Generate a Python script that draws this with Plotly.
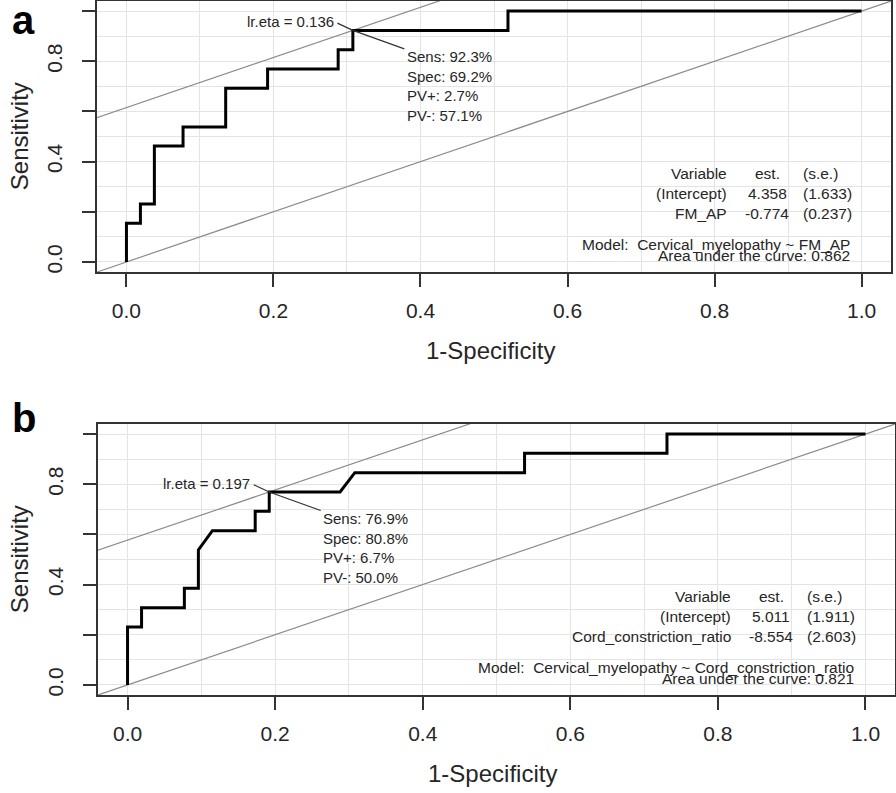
import plotly.graph_objects as go

# ---- panel a: FM_AP ----
fpr_a = [0, 0, 0.019, 0.019, 0.038, 0.038, 0.077, 0.077, 0.135, 0.135,
         0.192, 0.192, 0.288, 0.288, 0.308, 0.308, 0.519, 0.519, 1.0]
tpr_a = [0, 0.154, 0.154, 0.231, 0.231, 0.462, 0.462, 0.538, 0.538, 0.692,
         0.692, 0.769, 0.769, 0.846, 0.846, 0.923, 0.923, 1.0, 1.0]
opt_a = (0.308, 0.923)
lr_eta_a = "lr.eta = 0.136"
stats_a = ["Sens: 92.3%", "Spec: 69.2%", "PV+: 2.7%", "PV-: 57.1%"]
table_a = [("Variable", "est.", "(s.e.)"),
           ("(Intercept)", "4.358", "(1.633)"),
           ("FM_AP", "-0.774", "(0.237)")]
model_a = "Cervical_myelopathy ~ FM_AP"
auc_a = "0.862"

# ---- panel b: Cord constriction ratio ----
fpr_b = [0, 0, 0.019, 0.019, 0.077, 0.077, 0.096, 0.096, 0.115, 0.173,
         0.173, 0.192, 0.192, 0.288, 0.308, 0.538, 0.538, 0.731, 0.731, 1.0]
tpr_b = [0, 0.231, 0.231, 0.308, 0.308, 0.385, 0.385, 0.538, 0.615, 0.615,
         0.692, 0.692, 0.769, 0.769, 0.846, 0.846, 0.923, 0.923, 1.0, 1.0]
opt_b = (0.192, 0.769)
lr_eta_b = "lr.eta = 0.197"
stats_b = ["Sens: 76.9%", "Spec: 80.8%", "PV+: 6.7%", "PV-: 50.0%"]
table_b = [("Variable", "est.", "(s.e.)"),
           ("(Intercept)", "5.011", "(1.911)"),
           ("Cord_constriction_ratio", "-8.554", "(2.603)")]
model_b = "Cervical_myelopathy ~ Cord_constriction_ratio"
auc_b = "0.821"

x_ticks = [0, 0.2, 0.4, 0.6, 0.8, 1.0]
x_ticktext = ["0.0", "0.2", "0.4", "0.6", "0.8", "1.0"]
y_ticks = [0, 0.2, 0.4, 0.6, 0.8, 1.0]
y_ticktext = ["0.0", "", "0.4", "", "0.8", ""]

FONT = "Liberation Sans, Arial, sans-serif"
TXT = "#262626"
AX = "#333333"

fig = go.Figure()

panels = [
    dict(tag="a", xa="x", ya="y", fpr=fpr_a, tpr=tpr_a, opt=opt_a, eta=lr_eta_a,
         stats=stats_a, table=table_a, model=model_a, auc=auc_a,
         xdom=[0.1083, 0.9944], ydom=[0.6570, 0.9987], tag_y=0.9745),
    dict(tag="b", xa="x2", ya="y2", fpr=fpr_b, tpr=tpr_b, opt=opt_b, eta=lr_eta_b,
         stats=stats_b, table=table_b, model=model_b, auc=auc_b,
         xdom=[0.1094, 0.9989], ydom=[0.1236, 0.4653], tag_y=0.4729),
]

annotations = []
axis_common = dict(range=[-0.04, 1.04], showline=True, mirror=True,
                   linecolor=AX, linewidth=1.5, ticks="outside", ticklen=13,
                   tickwidth=1.5, tickcolor=AX, showgrid=True, gridcolor="#e4e4e4",
                   gridwidth=1, zeroline=False, automargin=False,
                   tickfont=dict(family=FONT, size=21, color=TXT),
                   minor=dict(tick0=0, dtick=0.1, showgrid=True,
                              gridcolor="#e4e4e4", gridwidth=1, ticks=""))

for p in panels:
    # diagonal and tangent line through the optimal cut point
    icpt = p["opt"][1] - p["opt"][0]
    for b in [0, icpt]:
        fig.add_trace(go.Scatter(x=[-1, 2], y=[-1 + b, 2 + b], mode="lines",
                                 line=dict(color="#8c8c8c", width=1.2),
                                 xaxis=p["xa"], yaxis=p["ya"],
                                 hoverinfo="skip", showlegend=False))
    # ROC curve
    fig.add_trace(go.Scatter(x=p["fpr"], y=p["tpr"], mode="lines",
                             line=dict(color="black", width=3),
                             xaxis=p["xa"], yaxis=p["ya"], showlegend=False))

    ox, oy = p["opt"]
    # leader lines
    for ax_, ay_ in [(-17, -8), (53, 19)]:
        annotations.append(dict(x=ox, y=oy, xref=p["xa"], yref=p["ya"], text="",
                                showarrow=True, arrowhead=0, arrowwidth=1.2,
                                arrowcolor=AX, ax=ax_, ay=ay_, standoff=0))
    annotations.append(dict(x=ox, y=oy, xref=p["xa"], yref=p["ya"], text=p["eta"],
                            showarrow=False, xanchor="right", yanchor="middle",
                            xshift=-17, yshift=9,
                            font=dict(family=FONT, size=15, color=TXT)))
    annotations.append(dict(x=ox, y=oy, xref=p["xa"], yref=p["ya"],
                            text="<br>".join(p["stats"]), align="left",
                            showarrow=False, xanchor="left", yanchor="top",
                            xshift=52, yshift=-16,
                            font=dict(family=FONT, size=15, color=TXT)))

    # coefficient table
    rows_y = [0.351, 0.273, 0.195]
    tf = dict(family=FONT, size=15.5, color=TXT)
    for (lab, est, se), ry in zip(p["table"], rows_y):
        annotations.append(dict(x=0.82, y=ry, xref=p["xa"], yref=p["ya"], text=lab,
                                showarrow=False, xanchor="right", font=tf))
        annotations.append(dict(x=0.872, y=ry, xref=p["xa"], yref=p["ya"], text=est,
                                showarrow=False, xanchor="center", font=tf))
        annotations.append(dict(x=0.918, y=ry, xref=p["xa"], yref=p["ya"], text=se,
                                showarrow=False, xanchor="left", font=tf))
    annotations.append(dict(x=0.987, y=0.070, xref=p["xa"], yref=p["ya"],
                            text="Model:\u00a0\u00a0" + p["model"],
                            showarrow=False, xanchor="right", font=tf))
    annotations.append(dict(x=0.987, y=0.026, xref=p["xa"], yref=p["ya"],
                            text="Area under the curve: " + p["auc"],
                            showarrow=False, xanchor="right", font=tf))

    # axis titles and panel letter
    ymid = (p["ydom"][0] + p["ydom"][1]) / 2
    xmid = (p["xdom"][0] + p["xdom"][1]) / 2
    annotations.append(dict(x=0.022, y=ymid, xref="paper", yref="paper",
                            text="Sensitivity", textangle=-90, showarrow=False,
                            xanchor="center", yanchor="middle",
                            font=dict(family=FONT, size=24, color=TXT)))
    annotations.append(dict(x=xmid - 0.004, y=p["ydom"][0] - 0.0984, xref="paper",
                            yref="paper", text="1-Specificity", showarrow=False,
                            xanchor="center", yanchor="middle",
                            font=dict(family=FONT, size=24, color=TXT)))
    annotations.append(dict(x=0.011, y=p["tag_y"], xref="paper",
                            yref="paper", text="<b>" + p["tag"] + "</b>",
                            showarrow=False, xanchor="left", yanchor="middle",
                            font=dict(family=FONT, size=40, color="black")))

    xname = "xaxis" if p["xa"] == "x" else "xaxis2"
    yname = "yaxis" if p["ya"] == "y" else "yaxis2"
    fig.update_layout({
        xname: dict(axis_common, domain=p["xdom"], anchor=p["ya"],
                    tickvals=x_ticks, ticktext=x_ticktext, ticklabelstandoff=6),
        yname: dict(axis_common, domain=p["ydom"], anchor=p["xa"],
                    tickvals=y_ticks, ticktext=y_ticktext, tickangle=-90,
                    ticklabelstandoff=12),
    })

fig.update_layout(
    width=896, height=793,
    margin=dict(l=0, r=0, t=0, b=0),
    template="none",
    plot_bgcolor="white", paper_bgcolor="white",
    annotations=annotations,
    showlegend=False,
)

# drop the default 8px page margin so the figure fills the window exactly
fig.write_html("out.html", config={"displayModeBar": False},
               post_script="document.body.style.margin='0px';")
